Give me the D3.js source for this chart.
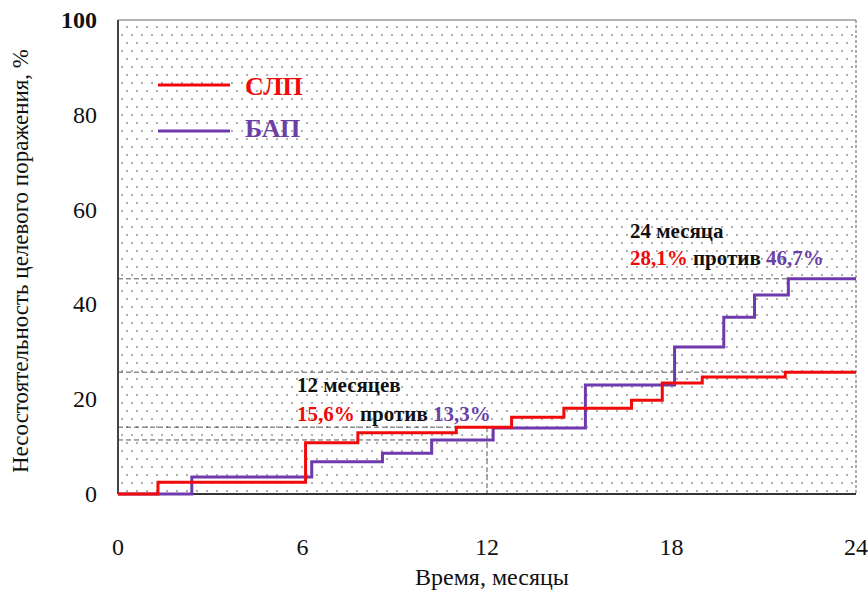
<!DOCTYPE html>
<html><head><meta charset="utf-8">
<script src="https://cdn.jsdelivr.net/npm/d3@7"></script>
<style>body{margin:0;background:#fff}svg{display:block}</style>
</head><body><svg id="c" width="868" height="596" font-family="'Liberation Serif', 'DejaVu Serif', serif"></svg>
<script>
const xTicks = [0, 6, 12, 18, 24];
const yTicks = [0, 20, 40, 60, 80, 100];
const seriesNames = ["СЛП", "БАП"];
const slpTimes  = [0, 1.3, 6.1, 7.8, 11.0, 12.8, 14.5, 16.7, 17.7, 19.0, 21.7, 24];
const slpValues = [0, 2.5, 10.8, 12.9, 14.1, 16.2, 18.1, 19.8, 23.4, 24.7, 25.7, 25.7];
const bapTimes  = [0, 2.4, 6.3, 8.6, 10.2, 12.2, 15.2, 18.1, 19.7, 20.7, 21.8, 24];
const bapValues = [0, 3.6, 6.8, 8.6, 11.4, 13.9, 23.0, 31.0, 37.3, 42.0, 45.4, 45.4];
const note12 = ["12 месяцев", "15,6%", "против", "13,3%"];
const note24 = ["24 месяца", "28,1%", "против", "46,7%"];

const FONT = "'Liberation Serif', 'DejaVu Serif', serif";
const RED = "#f00a0a", PURPLE = "#6e3aad", PTXT = "#6a3fa6";
const svg = d3.select("#c");
const m = {l:118, r:856, t:20, b:494};
const x = d3.scaleLinear().domain([0,24]).range([m.l, m.r]);
const y = d3.scaleLinear().domain([0,100]).range([m.b, m.t]);

const defs = svg.append("defs");
const pat = defs.append("pattern").attr("id","dots").attr("patternUnits","userSpaceOnUse")
  .attr("width",10).attr("height",16);
pat.append("rect").attr("width",10).attr("height",16).attr("fill","#fff");
pat.append("circle").attr("cx",2).attr("cy",3).attr("r",0.9).attr("fill","#888");
pat.append("circle").attr("cx",7).attr("cy",11).attr("r",0.9).attr("fill","#888");

svg.append("rect").attr("x",m.l).attr("y",m.t).attr("width",m.r-m.l).attr("height",m.b-m.t).attr("fill","url(#dots)");
svg.append("line").attr("x1",m.l).attr("x2",m.r).attr("y1",m.t).attr("y2",m.t).attr("stroke","#9a9a9a").attr("stroke-width",1.5);
svg.append("line").attr("x1",m.r).attr("x2",m.r).attr("y1",m.t).attr("y2",m.b).attr("stroke","#777").attr("stroke-width",1.2).attr("stroke-dasharray","3,2");

const ser = [
  {t:slpTimes, v:slpValues, c:RED},
  {t:bapTimes, v:bapValues, c:PURPLE}
];
const valAt = (s, tt) => { let v = s.v[0]; s.t.forEach((t,i)=>{ if (t<=tt) v = s.v[i]; }); return v; };

const dash = svg.append("g").attr("stroke","#555").attr("stroke-width",1).attr("stroke-dasharray","5,3").attr("fill","none");
ser.forEach(s => {
  const v24 = s.v[s.v.length-1];
  dash.append("line").attr("x1",x(0)).attr("x2",x(24)).attr("y1",y(v24)).attr("y2",y(v24));
  const v12 = valAt(s, 12);
  dash.append("line").attr("x1",x(0)).attr("x2",x(12)).attr("y1",y(v12)).attr("y2",y(v12));
});
const top12 = d3.max(ser, s => valAt(s,12));
dash.append("line").attr("x1",x(12)).attr("x2",x(12)).attr("y1",y(top12)).attr("y2",y(0));

svg.append("line").attr("x1",m.l).attr("x2",m.l).attr("y1",m.t).attr("y2",m.b).attr("stroke","#444").attr("stroke-width",2);
svg.append("line").attr("x1",m.l).attr("x2",m.r).attr("y1",m.b).attr("y2",m.b).attr("stroke","#333").attr("stroke-width",2);

const line = d3.line().x(d=>x(d[0])).y(d=>y(d[1])).curve(d3.curveStepAfter);
[ser[1], ser[0]].forEach(s => {
  svg.append("path").attr("d", line(s.t.map((t,i)=>[t,s.v[i]]))).attr("fill","none")
    .attr("stroke", s.c).attr("stroke-width",3);
});

svg.append("g").selectAll("text").data(yTicks).join("text").attr("font-family",FONT)
  .attr("x",97).attr("y",d=>y(d)+8).attr("text-anchor","end").attr("font-size",24)
  .attr("font-weight",d=>d===100?"bold":"normal").attr("fill","#111").text(d=>d);
svg.append("g").selectAll("text").data(xTicks).join("text").attr("font-family",FONT)
  .attr("x",d=>x(d)).attr("y",555).attr("text-anchor","middle").attr("font-size",24)
  .attr("fill","#111").text(d=>d);

svg.append("text").attr("font-family",FONT).attr("x",492).attr("y",585).attr("text-anchor","middle").attr("font-size",24).attr("fill","#111").text("Время, месяцы");
svg.append("text").attr("font-family",FONT).attr("transform","translate(28,261) rotate(-90)").attr("text-anchor","middle").attr("font-size",23).attr("fill","#111").text("Несостоятельность целевого поражения, %");

const leg = svg.append("g");
[[RED,RED,85,95],[PURPLE,PTXT,131,137]].forEach((c,i)=>{
  leg.append("line").attr("x1",158).attr("x2",230).attr("y1",c[2]).attr("y2",c[2]).attr("stroke",c[0]).attr("stroke-width",3);
  leg.append("text").attr("font-family",FONT).attr("x",245).attr("y",c[3]).attr("font-size",26).attr("font-weight","bold").attr("fill",c[1]).text(seriesNames[i]);
});

function note(n, xx, y1, y2){
  const g = svg.append("g").attr("font-size",21).attr("font-weight","bold").attr("font-family",FONT);
  g.append("text").attr("x",xx).attr("y",y1).attr("fill","#111").text(n[0]);
  const t = g.append("text").attr("x",xx).attr("y",y2);
  t.append("tspan").attr("fill",RED).text(n[1]);
  t.append("tspan").attr("fill","#111").text(" " + n[2] + " ");
  t.append("tspan").attr("fill",PTXT).text(n[3]);
}
note(note12, 297, 392, 421);
note(note24, 630, 238, 265);
</script></body></html>
